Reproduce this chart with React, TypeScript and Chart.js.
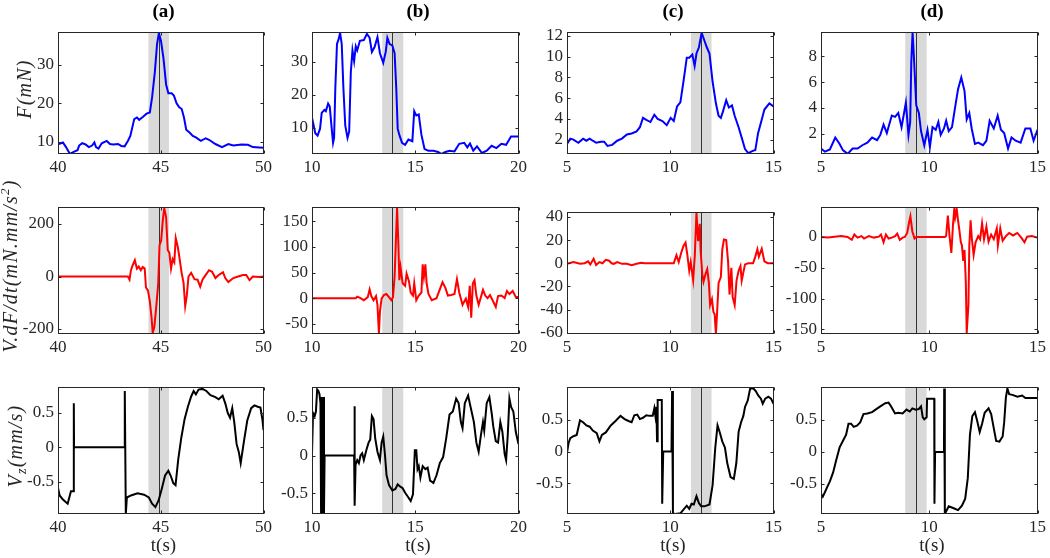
import React, { useEffect, useRef } from "react";
import { Chart, registerables } from "chart.js";

Chart.register(...registerables);

type Pt = [number, number];

// ---------- tick values ----------
const xTicksA = [40, 45, 50];
const xTicksB = [10, 15, 20];
const xTicksCD = [5, 10, 15];
const forceTicksAB = [10, 20, 30];
const forceTicksC = [2, 4, 6, 8, 10, 12];
const forceTicksD = [2, 4, 6, 8];
const powerTicksA = [-200, 0, 200];
const powerTicksB = [-50, 0, 50, 100, 150];
const powerTicksC = [-60, -40, -20, 0, 20, 40];
const powerTicksD = [-150, -100, -50, 0];
const velTicks = [-0.5, 0, 0.5];

const panelTitles = ["(a)", "(b)", "(c)", "(d)"];

// ---------- event windows (s) ----------
const windowA: Pt = [44.4, 45.4];
const windowB: Pt = [13.4, 14.42];
const windowC: Pt = [11.0, 12.0];
const windowD: Pt = [8.89, 9.88];
const eventTimes = [44.9, 13.88, 11.48, 9.38];

// ---------- axis limits ----------
const xRanges: Pt[] = [[40, 50], [10, 20], [5, 15], [5, 15]];
const forceRanges: Pt[] = [[6.8, 38.5], [2.0, 39.0], [0.62, 12.35], [0.42, 9.87]];
const powerRanges: Pt[] = [[-219, 264], [-70, 177.5], [-61, 44], [-157.6, 48.4]];
const velRanges: Pt[] = [[-0.97, 0.875], [-0.77, 0.9], [-0.98, 1.01], [-0.97, 1.01]];

// ---------- F (mN) ----------
const forceA: Pt[] = [
  [40.0, 9.3], [40.24, 9.8], [40.39, 8.6], [40.58, 6.8], [40.79, 7.4], [40.95, 7.8], [41.03, 9.0],
  [41.18, 9.6], [41.34, 9.3], [41.5, 8.6], [41.66, 9.0], [41.77, 9.8], [41.85, 8.6], [41.97, 8.2],
  [42.13, 9.6], [42.37, 10.2], [42.53, 9.4], [42.69, 9.3], [42.92, 9.4], [43.08, 8.9], [43.24, 8.8],
  [43.4, 10.2], [43.52, 11.5], [43.71, 15.9], [43.84, 16.3], [43.95, 15.7], [44.14, 16.5], [44.31, 17.3],
  [44.47, 17.6], [44.58, 21.6], [44.71, 28], [44.82, 35.4], [44.91, 38.3], [45.01, 36.3], [45.13, 31.8],
  [45.26, 24.9], [45.37, 22.6], [45.53, 22.6], [45.64, 22.0], [45.77, 20.0], [45.89, 19.0], [46.02, 18.5],
  [46.13, 16.3], [46.24, 13.1], [46.4, 12.4], [46.56, 11.5], [46.71, 11.1], [46.95, 10.2], [47.19, 10.9],
  [47.35, 10.5], [47.66, 9.4], [47.98, 8.6], [48.29, 9.4], [48.53, 9.0], [48.93, 9.3], [49.24, 9.2],
  [49.48, 8.6], [49.79, 8.5], [50.0, 8.4],
];
const forceB: Pt[] = [
  [10.0, 13.0], [10.08, 10.7], [10.16, 8.3], [10.27, 7.6], [10.39, 9.7], [10.47, 14.5], [10.6, 15.4],
  [10.67, 15.0], [10.78, 17.3], [10.86, 16.4], [10.94, 10.7], [11.02, 5.4], [11.07, 6.9], [11.13, 22.1],
  [11.21, 35.4], [11.29, 36.9], [11.36, 38.8], [11.44, 35.4], [11.52, 22.1], [11.61, 10.7], [11.72, 6.9],
  [11.8, 8.8], [11.88, 26.9], [11.96, 33.5], [12.04, 30.2], [12.12, 34.7], [12.19, 33.5], [12.32, 36.4],
  [12.51, 36.6], [12.66, 38.5], [12.79, 37.3], [12.9, 33.0], [13.03, 34.5], [13.17, 37.5], [13.29, 32.6],
  [13.45, 29.7], [13.57, 33.0], [13.65, 37.3], [13.76, 35.4], [13.89, 35.0], [14.0, 32.6], [14.08, 22.1],
  [14.15, 9.7], [14.23, 7.8], [14.36, 5.4], [14.51, 4.8], [14.67, 6.4], [14.86, 5.9], [14.95, 15.0],
  [15.05, 13.7], [15.17, 14.0], [15.3, 7.8], [15.45, 3.5], [15.64, 3.0], [15.88, 3.0], [16.11, 2.6],
  [16.27, 2.0], [16.46, 2.6], [16.66, 3.0], [16.9, 2.8], [17.13, 5.1], [17.37, 5.4], [17.52, 4.0],
  [17.65, 5.2], [17.81, 3.0], [17.99, 4.3], [18.23, 2.3], [18.46, 3.0], [18.7, 4.5], [18.93, 3.8],
  [19.17, 5.1], [19.4, 4.8], [19.64, 7.3], [20.0, 7.3],
];
const forceC: Pt[] = [
  [5.0, 1.58], [5.16, 2.1], [5.31, 2.0], [5.55, 1.7], [5.78, 2.1], [5.94, 1.9], [6.1, 2.1], [6.25, 1.9],
  [6.41, 1.7], [6.65, 1.8], [6.8, 1.8], [6.96, 1.4], [7.19, 1.5], [7.43, 1.9], [7.66, 2.1], [7.9, 2.5],
  [8.13, 2.6], [8.37, 2.8], [8.53, 3.2], [8.68, 4.1], [8.84, 3.9], [9.04, 3.7], [9.23, 4.4], [9.39, 4.0],
  [9.62, 3.8], [9.83, 3.4], [10.02, 4.1], [10.17, 3.8], [10.33, 5.2], [10.49, 5.6], [10.64, 7.6],
  [10.8, 9.9], [10.92, 9.9], [11.07, 10.2], [11.18, 9.1], [11.27, 10.3], [11.39, 10.9], [11.52, 12.3],
  [11.66, 11.5], [11.77, 10.9], [11.9, 10.3], [12.05, 7.6], [12.21, 5.5], [12.34, 4.3], [12.45, 4.1],
  [12.55, 4.7], [12.71, 5.8], [12.84, 5.1], [12.99, 5.3], [13.12, 4.3], [13.31, 3.2], [13.46, 2.2],
  [13.62, 1.1], [13.78, 0.7], [13.97, 0.9], [14.12, 1.0], [14.25, 2.6], [14.4, 3.7], [14.56, 4.9],
  [14.8, 5.5], [15.0, 5.2],
];
const forceD: Pt[] = [
  [5.0, 0.84], [5.18, 0.6], [5.41, 0.77], [5.66, 1.7], [5.86, 1.2], [6.01, 0.72], [6.23, 0.43], [6.46, 0.84],
  [6.69, 0.84], [6.91, 1.1], [7.14, 1.3], [7.36, 1.7], [7.59, 1.5], [7.74, 1.9], [7.89, 2.7], [8.04, 2.05],
  [8.27, 3.4], [8.42, 3.3], [8.57, 3.6], [8.72, 2.5], [8.92, 4.4], [9.04, 1.9], [9.12, 2.9], [9.17, 7.5],
  [9.23, 9.87], [9.29, 8.0], [9.4, 4.2], [9.52, 3.6], [9.62, 2.2], [9.77, 1.1], [9.92, 2.3], [10.03, 0.96],
  [10.15, 2.5], [10.3, 2.3], [10.42, 2.9], [10.53, 1.9], [10.68, 2.4], [10.78, 3.0], [10.9, 2.2],
  [11.05, 2.5], [11.2, 4.1], [11.33, 5.45], [11.48, 6.35], [11.63, 5.3], [11.73, 3.1], [11.85, 3.6],
  [11.96, 2.4], [12.11, 1.2], [12.26, 1.3], [12.48, 1.1], [12.64, 1.45], [12.79, 3.0], [12.98, 2.4],
  [13.16, 3.4], [13.31, 2.3], [13.46, 2.05], [13.64, 0.84], [13.8, 1.7], [13.99, 1.45], [14.22, 1.3],
  [14.44, 2.4], [14.67, 2.4], [14.82, 1.45], [15.0, 2.3],
];

// ---------- V.dF/dt (mN.mm/s^2) ----------
const powerA: Pt[] = [
  [40.0, 0], [43.4, 0], [43.48, -12], [43.55, 24], [43.63, 42], [43.74, 62], [43.84, 30], [43.93, 38],
  [44.03, 24], [44.12, 36], [44.22, 30], [44.28, -42], [44.38, -54], [44.47, -96], [44.55, -155],
  [44.61, -215], [44.69, -191], [44.79, -107], [44.88, -24], [44.94, 119], [45.02, 137], [45.1, 215],
  [45.17, 260], [45.26, 227], [45.34, 101], [45.42, 90], [45.5, 30], [45.58, 66], [45.66, 54],
  [45.73, 146], [45.83, 113], [45.92, 66], [46.02, 12], [46.11, -24], [46.19, -113], [46.27, -72],
  [46.35, 0], [46.48, 14], [46.64, -10], [46.79, -12], [46.92, -39], [47.03, -12], [47.19, 6],
  [47.35, 24], [47.5, 18], [47.66, -6], [47.82, 6], [48.03, 16], [48.14, -6], [48.29, -21], [48.53, -6],
  [48.77, 0], [49.0, 6], [49.16, 6], [49.32, -14], [49.48, 0], [49.79, -2], [50.0, 0],
];
const powerB: Pt[] = [
  [10.0, 0], [12.12, 0], [12.19, 3], [12.35, 0], [12.51, -4], [12.7, 2], [12.79, 17], [12.87, 4],
  [12.98, -4], [13.1, 4], [13.17, -13], [13.24, -69], [13.29, -26], [13.37, -1], [13.48, 6], [13.6, 8],
  [13.73, 2], [13.84, -4], [13.92, 2], [14.0, 42], [14.06, 109], [14.12, 176], [14.18, 109], [14.23, 35],
  [14.29, 60], [14.39, 29], [14.51, 24], [14.58, 48], [14.7, 32], [14.78, 11], [14.89, 5], [14.95, 29],
  [15.05, -4], [15.17, 5], [15.3, 11], [15.36, 66], [15.42, 42], [15.49, 66], [15.55, 29], [15.64, 8],
  [15.8, -4], [16.03, 0], [16.19, 17], [16.32, 31], [16.46, 20], [16.58, 5], [16.74, 6], [16.9, 8],
  [17.02, 37], [17.13, 11], [17.29, -13], [17.45, -1], [17.56, -17], [17.64, 24], [17.71, -38],
  [17.79, 29], [17.87, 35], [17.96, 5], [18.07, -13], [18.18, 2], [18.28, 16], [18.39, 5], [18.5, 0],
  [18.62, 6], [18.78, -7], [18.9, -17], [19.01, 4], [19.17, 5], [19.33, 0], [19.44, 14], [19.56, 8],
  [19.72, 14], [19.87, 2], [20.0, 2],
];
const powerC: Pt[] = [
  [5.0, -0.5], [5.31, 1], [5.63, -0.5], [5.86, 0], [6.02, 1.6], [6.13, -1], [6.29, 3.8], [6.41, -1.6],
  [6.57, 1], [6.72, 0], [6.88, 3], [7.04, 2.2], [7.16, 0], [7.27, -0.5], [7.43, 1], [7.66, -0.5],
  [7.9, -0.5], [8.13, -1.6], [8.37, -0.5], [8.6, 0.5], [8.76, 0], [10.17, 0], [10.3, 7], [10.41, 1],
  [10.52, 8.4], [10.64, 15], [10.74, 17.8], [10.83, 7], [10.92, -6.5], [10.99, 1], [11.11, -14.6],
  [11.19, 7], [11.27, 44], [11.35, 19], [11.43, 34], [11.47, 11], [11.55, -9], [11.61, -16], [11.71, -9],
  [11.79, -5], [11.87, -17], [11.93, -36], [12.02, -31], [12.09, -42], [12.15, -44], [12.21, -61],
  [12.27, -42], [12.34, -17], [12.45, -12], [12.52, 12], [12.6, 20.5], [12.71, 20], [12.8, 1.6],
  [12.87, -27], [12.96, -4], [13.02, -29], [13.12, -36], [13.21, -15], [13.31, -6.5], [13.4, -2.4],
  [13.46, -15], [13.62, -1], [13.78, 0], [14.01, 0], [14.12, 5.7], [14.22, 12], [14.29, 5.7],
  [14.43, 12.4], [14.56, 1.6], [14.72, 0], [15.0, 0],
];
const powerD: Pt[] = [
  [5.0, 0], [5.33, -1], [5.63, 0.5], [5.93, 1.5], [6.23, 0], [6.42, -4.6], [6.54, 4], [6.69, -1],
  [6.87, 1.5], [6.99, -2.5], [7.21, 1.5], [7.44, -1], [7.67, 0.5], [7.77, 4], [7.89, -8.6], [8.0, 4],
  [8.12, -2.5], [8.27, -1], [8.42, 1.5], [8.52, 5.6], [8.64, -4.6], [8.77, -1], [8.87, 0], [8.98, 6.6],
  [9.07, 24], [9.13, 33.5], [9.22, 9], [9.32, -2.5], [9.4, 0], [10.72, 0], [10.78, 1.5], [10.86, 34.6],
  [10.93, 4], [11.02, -26], [11.1, 22], [11.16, 47], [11.2, 32], [11.27, 45], [11.33, 27], [11.39, 11.7],
  [11.46, -8.6], [11.51, -13.7], [11.57, -39], [11.63, -21], [11.69, -75], [11.73, -156], [11.81, -110],
  [11.85, -14], [11.91, 27], [11.97, -3.6], [12.05, -29], [12.14, -8.6], [12.26, 1.5], [12.35, -3.6],
  [12.44, 22], [12.53, -3.6], [12.64, 17], [12.74, -7.6], [12.86, 4], [12.98, -3.6], [13.12, 14],
  [13.17, -13.7], [13.28, 14], [13.39, -6], [13.54, 1.5], [13.69, 6.6], [13.87, 2.5], [14.07, 6.6],
  [14.25, -1], [14.4, -8.6], [14.52, 0.5], [14.74, 1.5], [15.0, -1],
];

// ---------- Vz (mm/s) ----------
const velA: Pt[] = [
  [40.0, -0.59], [40.08, -0.7], [40.24, -0.76], [40.39, -0.8], [40.47, -0.82], [40.55, -0.73],
  [40.63, -0.64], [40.76, -0.64], [40.77, 0.64], [40.78, 0], [43.24, 0], [43.25, 0.82], [43.3, -0.97],
  [43.35, -0.73], [43.55, -0.7], [43.87, -0.67], [44.19, -0.69], [44.42, -0.73], [44.58, -0.82],
  [44.74, -0.87], [44.9, -0.77], [45.06, -0.59], [45.21, -0.41], [45.37, -0.34], [45.48, -0.41],
  [45.61, -0.52], [45.72, -0.55], [45.85, -0.18], [46.0, 0.14], [46.16, 0.41], [46.32, 0.59],
  [46.48, 0.74], [46.6, 0.82], [46.71, 0.77], [46.84, 0.84], [47.03, 0.85], [47.22, 0.82], [47.42, 0.76],
  [47.66, 0.73], [47.82, 0.7], [48.01, 0.75], [48.14, 0.64], [48.26, 0.5], [48.37, 0.43], [48.48, 0.57],
  [48.58, 0.36], [48.69, 0.05], [48.8, -0.07], [48.89, -0.23], [48.96, -0.09], [49.05, 0.09],
  [49.21, 0.39], [49.4, 0.57], [49.56, 0.61], [49.72, 0.59], [49.85, 0.58], [49.95, 0.4], [50.0, 0.25],
];
const velB: Pt[] = [
  [10.0, 0.02], [10.05, 0.56], [10.13, 0.52], [10.19, 0.58], [10.25, 0.87], [10.31, 0.85], [10.36, 0.81],
  [10.41, 0.69], [10.44, -0.77], [10.47, 0.77], [10.5, -0.77], [10.55, 0.77], [10.58, -0.77], [10.61, 0],
  [12.04, 0], [12.05, 0.65], [12.08, -0.66], [12.11, -0.12], [12.19, -0.06], [12.27, -0.1], [12.35, 0],
  [12.43, 0.03], [12.51, -0.06], [12.63, 0.07], [12.74, 0.17], [12.82, 0.21], [12.9, 0.52], [12.98, 0.48],
  [13.06, 0.23], [13.17, 0.05], [13.29, -0.06], [13.37, 0.17], [13.45, 0.25], [13.53, 0.02],
  [13.61, -0.26], [13.73, -0.39], [13.89, -0.46], [14.04, -0.44], [14.15, -0.38], [14.28, -0.41],
  [14.39, -0.43], [14.51, -0.49], [14.66, -0.55], [14.78, -0.6], [14.89, -0.51], [14.98, 0.07],
  [15.05, 0.07], [15.11, -0.18], [15.17, -0.14], [15.25, -0.29], [15.36, -0.14], [15.49, -0.18],
  [15.6, -0.16], [15.72, -0.33], [15.88, -0.36], [16.03, -0.26], [16.19, -0.1], [16.35, -0.02],
  [16.5, 0.23], [16.66, 0.54], [16.82, 0.58], [16.98, 0.75], [17.1, 0.69], [17.21, 0.44], [17.29, 0.36],
  [17.4, 0.69], [17.56, 0.79], [17.68, 0.64], [17.84, 0.44], [17.96, 0.17], [18.07, 0.05], [18.18, 0.27],
  [18.28, 0.44], [18.34, 0.33], [18.46, 0.69], [18.59, 0.77], [18.7, 0.56], [18.78, 0.38], [18.9, 0.19],
  [19.01, 0.17], [19.12, 0.44], [19.22, 0.31], [19.33, 0.02], [19.4, -0.06], [19.48, 0.27], [19.56, 0.75],
  [19.64, 0.64], [19.75, 0.58], [19.87, 0.31], [20.0, 0.15],
];
const velC: Pt[] = [
  [5.0, -0.02], [5.08, 0.14], [5.16, 0.21], [5.31, 0.24], [5.47, 0.26], [5.63, 0.49], [5.78, 0.46],
  [5.94, 0.41], [6.1, 0.39], [6.25, 0.33], [6.44, 0.29], [6.57, 0.16], [6.69, 0.26], [6.88, 0.3],
  [7.12, 0.41], [7.35, 0.48], [7.59, 0.56], [7.79, 0.51], [7.98, 0.48], [8.13, 0.46], [8.26, 0.57],
  [8.4, 0.58], [8.53, 0.51], [8.68, 0.53], [8.84, 0.57], [9.0, 0.56], [9.15, 0.56], [9.23, 0.68],
  [9.28, 0.56], [9.33, 0.7], [9.36, 0.16], [9.39, 0.81], [9.59, 0.81], [9.61, -0.82], [9.66, 0],
  [10.06, 0], [10.09, 0.95], [10.13, -0.97], [10.25, -0.98], [10.49, -0.97], [10.64, -0.91], [10.8, -0.85],
  [10.92, -0.9], [11.03, -0.82], [11.14, -0.83], [11.27, -0.7], [11.39, -0.81], [11.5, -0.86],
  [11.66, -0.86], [11.9, -0.83], [12.05, -0.53], [12.18, 0.06], [12.29, 0.41], [12.4, 0.3], [12.52, 0.16],
  [12.65, 0.06], [12.76, -0.18], [12.92, -0.4], [13.08, -0.43], [13.2, -0.18], [13.31, 0.31],
  [13.43, 0.46], [13.54, 0.56], [13.62, 0.7], [13.75, 0.8], [13.87, 0.99], [14.03, 0.99], [14.14, 0.95],
  [14.26, 0.88], [14.39, 0.83], [14.48, 0.75], [14.6, 0.83], [14.75, 0.86], [14.88, 0.83], [15.0, 0.75],
];
const velD: Pt[] = [
  [5.0, -0.66], [5.08, -0.7], [5.18, -0.63], [5.3, -0.54], [5.41, -0.46], [5.56, -0.32], [5.71, -0.12],
  [5.86, 0.07], [6.01, 0.17], [6.16, 0.27], [6.27, 0.44], [6.39, 0.44], [6.51, 0.39], [6.66, 0.41],
  [6.81, 0.46], [6.96, 0.59], [7.14, 0.6], [7.36, 0.62], [7.52, 0.66], [7.74, 0.71], [7.97, 0.76],
  [8.12, 0.77], [8.22, 0.72], [8.42, 0.6], [8.57, 0.61], [8.77, 0.6], [8.95, 0.66], [9.1, 0.63],
  [9.22, 0.68], [9.37, 0.66], [9.52, 0.67], [9.62, 0.71], [9.7, 0.54], [9.77, 0.51], [9.88, 0.54],
  [9.9, 0.83], [10.23, 0.83], [10.24, -0.81], [10.27, 0], [10.68, 0], [10.69, 0.99], [10.72, -0.97],
  [10.9, -0.85], [11.13, -0.88], [11.33, -0.91], [11.51, -0.84], [11.66, -0.73], [11.78, -0.41],
  [11.88, 0.27], [11.99, 0.56], [12.11, 0.62], [12.21, 0.49], [12.33, 0.31], [12.44, 0.44], [12.56, 0.61],
  [12.74, 0.68], [12.86, 0.59], [12.98, 0.37], [13.09, 0.17], [13.24, 0.16], [13.39, 0.24], [13.46, 0.46],
  [13.54, 0.85], [13.61, 0.99], [13.69, 0.9], [13.84, 0.89], [14.07, 0.86], [14.29, 0.88], [14.44, 0.84],
  [14.67, 0.84], [15.0, 0.84],
];

// ---------- layout ----------
const COL_LEFT = [58, 312, 567, 821];
const COL_WIDTH = [211, 212, 212, 222];
const ROW_TOP = [24, 199, 379];
const ROW_HEIGHT = [130, 135, 135];
const M_LEFT = 56;
const M_TOP = 6;
const M_RIGHT = 6;
const M_BOTTOM = 28;
const SERIF = '"Liberation Serif", "Times New Roman", serif';
const AXIS_COLOR = "#262626";
const TICK_LEN = 3;

interface PanelProps {
  data: Pt[];
  color: string;
  xRange: Pt;
  yRange: Pt;
  xTicks: number[];
  yTicks: number[];
  band: Pt;
  event: number;
  left: number;
  top: number;
  width: number;
  height: number;
}

const framePlugin = {
  id: "frame",
  afterDraw(chart: any) {
    const { ctx, chartArea, scales } = chart;
    const L = Math.round(chartArea.left) + 0.5;
    const R = Math.round(chartArea.right) - 0.5;
    const T = Math.round(chartArea.top) + 0.5;
    const B = Math.round(chartArea.bottom) - 0.5;
    ctx.save();
    ctx.strokeStyle = AXIS_COLOR;
    ctx.lineWidth = 1;
    ctx.strokeRect(L, T, R - L, B - T);
    ctx.beginPath();
    scales.x.ticks.forEach((t: any) => {
      const px = Math.round(scales.x.getPixelForValue(t.value)) + 0.5;
      ctx.moveTo(px, B);
      ctx.lineTo(px, B - TICK_LEN);
      ctx.moveTo(px, T);
      ctx.lineTo(px, T + TICK_LEN);
    });
    scales.y.ticks.forEach((t: any) => {
      const py = Math.round(scales.y.getPixelForValue(t.value)) + 0.5;
      ctx.moveTo(L, py);
      ctx.lineTo(L + TICK_LEN, py);
      ctx.moveTo(R, py);
      ctx.lineTo(R - TICK_LEN, py);
    });
    ctx.stroke();
    ctx.restore();
  },
};

function Panel(p: PanelProps) {
  const ref = useRef<HTMLCanvasElement | null>(null);
  const cw = p.width + M_LEFT + M_RIGHT;
  const ch = p.height + M_TOP + M_BOTTOM;
  useEffect(() => {
    const canvas = ref.current;
    if (!canvas) return;
    const bandPlugin = {
      id: "band",
      beforeDatasetsDraw(chart: any) {
        const { ctx, chartArea, scales } = chart;
        const x0 = scales.x.getPixelForValue(p.band[0]);
        const x1 = scales.x.getPixelForValue(p.band[1]);
        ctx.save();
        ctx.fillStyle = "#d9d9d9";
        ctx.fillRect(x0, chartArea.top, x1 - x0, chartArea.bottom - chartArea.top);
        const xe = Math.round(scales.x.getPixelForValue(p.event)) + 0.5;
        ctx.strokeStyle = "#333333";
        ctx.lineWidth = 1;
        ctx.beginPath();
        ctx.moveTo(xe, chartArea.top);
        ctx.lineTo(xe, chartArea.bottom);
        ctx.stroke();
        ctx.restore();
      },
    };
    const tickFont = { family: SERIF, size: 17 };
    const chart = new Chart(canvas, {
      type: "line",
      data: {
        datasets: [
          {
            data: p.data.map(([x, y]) => ({ x, y })),
            borderColor: p.color,
            borderWidth: 2,
            pointRadius: 0,
            tension: 0,
            fill: false,
          },
        ],
      },
      options: {
        animation: false,
        responsive: false,
        events: [],
        layout: { padding: { top: M_TOP, right: M_RIGHT, left: 0, bottom: 0 } },
        plugins: { legend: { display: false }, tooltip: { enabled: false }, title: { display: false } },
        scales: {
          x: {
            type: "linear",
            min: p.xRange[0],
            max: p.xRange[1],
            afterBuildTicks: (s: any) => {
              s.ticks = p.xTicks.map((v) => ({ value: v }));
            },
            afterFit: (s: any) => {
              s.height = M_BOTTOM;
            },
            grid: { display: false, drawTicks: false },
            border: { display: false },
            ticks: {
              font: tickFont,
              color: AXIS_COLOR,
              padding: 3,
              maxRotation: 0,
              autoSkip: false,
              callback: (v: any) => String(v),
            },
          },
          y: {
            type: "linear",
            min: p.yRange[0],
            max: p.yRange[1],
            afterBuildTicks: (s: any) => {
              s.ticks = p.yTicks.map((v) => ({ value: v }));
            },
            afterFit: (s: any) => {
              s.width = M_LEFT;
            },
            grid: { display: false, drawTicks: false },
            border: { display: false },
            ticks: {
              font: tickFont,
              color: AXIS_COLOR,
              padding: 4,
              autoSkip: false,
              callback: (v: any) => String(v),
            },
          },
        },
      } as any,
      plugins: [bandPlugin, framePlugin],
    });
    return () => chart.destroy();
  }, []);
  return (
    <canvas
      ref={ref}
      width={cw}
      height={ch}
      style={{
        position: "absolute",
        left: p.left - M_LEFT,
        top: p.top - M_TOP,
        width: cw,
        height: ch,
      }}
    />
  );
}

const forceSeries = [forceA, forceB, forceC, forceD];
const powerSeries = [powerA, powerB, powerC, powerD];
const velSeries = [velA, velB, velC, velD];
const windows = [windowA, windowB, windowC, windowD];
const xTickSets = [xTicksA, xTicksB, xTicksCD, xTicksCD];
const forceTickSets = [forceTicksAB, forceTicksAB, forceTicksC, forceTicksD];
const powerTickSets = [powerTicksA, powerTicksB, powerTicksC, powerTicksD];

export default function App() {
  const panels: PanelProps[] = [];
  for (let c = 0; c < 4; c++) {
    const rows = [
      { data: forceSeries[c], color: "#0000ff", yRange: forceRanges[c], yTicks: forceTickSets[c] },
      { data: powerSeries[c], color: "#ff0000", yRange: powerRanges[c], yTicks: powerTickSets[c] },
      { data: velSeries[c], color: "#000000", yRange: velRanges[c], yTicks: velTicks },
    ];
    rows.forEach((r, ri) => {
      let top = ROW_TOP[ri];
      let height = ROW_HEIGHT[ri];
      if (ri === 1 && c === 2) {
        top = 204;
        height = 130;
      }
      panels.push({
        ...r,
        xRange: xRanges[c],
        xTicks: xTickSets[c],
        band: windows[c],
        event: eventTimes[c],
        left: COL_LEFT[c],
        top,
        width: COL_WIDTH[c],
        height,
      });
    });
  }

  const rotLabel = (cx: number, cy: number, content: React.ReactNode) => (
    <div
      style={{
        position: "absolute",
        left: cx,
        top: cy,
        transform: "translate(-50%, -50%) rotate(-90deg)",
        whiteSpace: "nowrap",
        fontStyle: "italic",
        fontSize: 20,
        letterSpacing: "1.2px",
        lineHeight: 1,
        color: AXIS_COLOR,
      }}
    >
      {content}
    </div>
  );

  return (
    <div
      style={{
        position: "absolute",
        left: 0,
        top: 0,
        width: 1050,
        height: 558,
        overflow: "hidden",
        background: "#ffffff",
        fontFamily: SERIF,
      }}
    >
      {panels.map((p, i) => (
        <Panel key={i} {...p} />
      ))}
      {panelTitles.map((t, c) => (
        <div
          key={t}
          style={{
            position: "absolute",
            left: COL_LEFT[c] + COL_WIDTH[c] / 2 - 40,
            width: 80,
            top: 0,
            textAlign: "center",
            fontWeight: "bold",
            fontSize: 19,
            color: "#000",
          }}
        >
          {t}
        </div>
      ))}
      {[0, 1, 2, 3].map((c) => (
        <div
          key={"t" + c}
          style={{
            position: "absolute",
            left: COL_LEFT[c] + COL_WIDTH[c] / 2 - 40,
            width: 80,
            top: 534,
            textAlign: "center",
            fontSize: 19,
            color: AXIS_COLOR,
          }}
        >
          t(s)
        </div>
      ))}
      {rotLabel(24, 89, <span>F(mN)</span>)}
      {rotLabel(
        10,
        266,
        <span>
          V.dF/dt(mN.mm/s
          <span style={{ fontSize: "0.65em", position: "relative", top: "-0.6em" }}>2</span>)
        </span>
      )}
      {rotLabel(
        15,
        446,
        <span>
          V<span style={{ fontSize: "0.7em", position: "relative", top: "0.3em" }}>z</span>(mm/s)
        </span>
      )}
    </div>
  );
}
